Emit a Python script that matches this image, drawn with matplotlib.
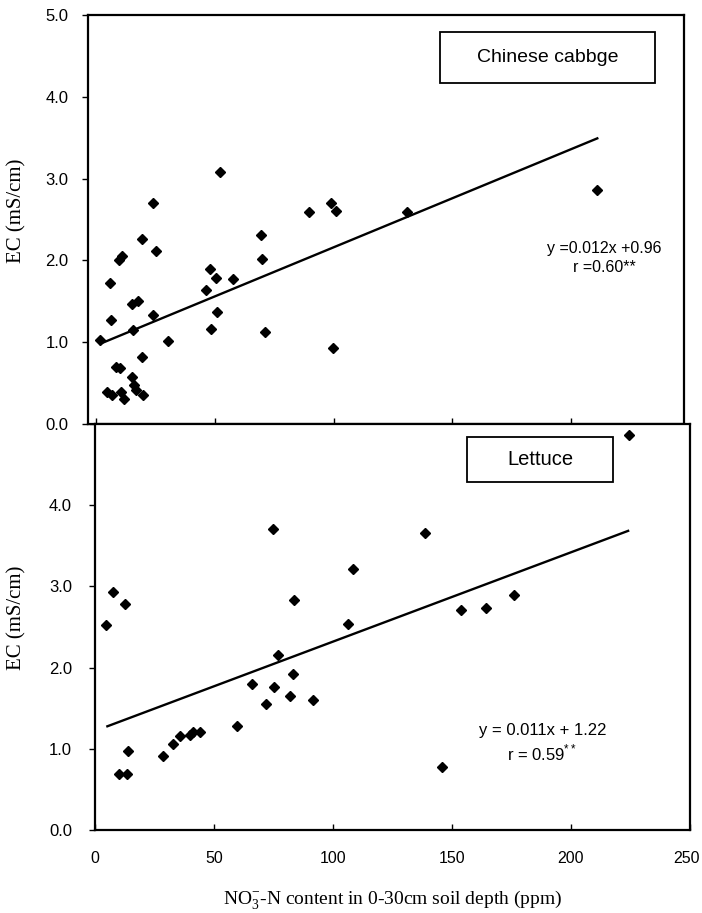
import numpy as np
import matplotlib
matplotlib.use('Agg')
import matplotlib.pyplot as plt
import matplotlib.transforms as mtransforms
from matplotlib.patches import Rectangle

plt.rcParams['mathtext.fontset'] = 'custom'
plt.rcParams['mathtext.rm'] = 'Liberation Serif'
plt.rcParams['mathtext.sf'] = 'Liberation Sans'

# Chinese cabbage (top panel)
cab_x = [1.7, 4.5, 5.9, 6.3, 6.9, 8.5, 9.7, 10.0, 10.4, 10.8, 11.8, 15.0, 15.0, 15.7,
         16.0, 16.8, 17.8, 19.2, 19.2, 19.6, 24.0, 24.1, 25.3, 30.4, 46.3, 48.0,
         48.4, 50.5, 50.8, 52.0, 57.8, 69.3, 69.7, 71.1, 89.6, 98.8, 99.9, 101.0,
         131.0, 211.0]
cab_y = [1.03, 0.39, 1.72, 1.27, 0.36, 0.70, 2.00, 0.69, 0.39, 2.05, 0.30, 1.47, 0.57, 1.15,
         0.48, 0.42, 1.50, 2.26, 0.82, 0.35, 2.70, 1.33, 2.11, 1.01, 1.64, 1.90,
         1.16, 1.78, 1.37, 3.08, 1.77, 2.31, 2.02, 1.12, 2.59, 2.70, 0.93, 2.60,
         2.59, 2.86]

# Lettuce (bottom panel)
let_x = [4.5, 7.6, 10.1, 12.5, 13.3, 13.9, 28.6, 32.8, 35.6, 40.0, 41.2, 44.0, 59.6,
         65.8, 71.8, 74.9, 75.3, 76.7, 82.1, 83.0, 83.6, 91.8, 106.2, 108.6,
         138.5, 145.7, 153.9, 164.4, 176.0, 224.3]
let_y = [2.53, 2.93, 0.69, 2.78, 0.69, 0.97, 0.91, 1.06, 1.16, 1.17, 1.21, 1.21, 1.28,
         1.80, 1.55, 3.71, 1.76, 2.15, 1.65, 1.92, 2.83, 1.60, 2.54, 3.22,
         3.66, 0.77, 2.71, 2.73, 2.89, 4.86]

# regression lines: slope, intercept, x range
cab_fit = [0.012, 0.96]
cab_range = [1.7, 211]
let_fit = [0.011, 1.22]
let_range = [5.2, 224]

yticks = [0.0, 1.0, 2.0, 3.0, 4.0, 5.0]
xticks = [0, 50, 100, 150, 200, 250]

W, H = 702, 913
fig = plt.figure(figsize=(W / 100, H / 100), dpi=100)

ax1 = fig.add_axes([88 / W, 1 - 424 / H, (684 - 88) / W, (424 - 15) / H])
ax2 = fig.add_axes([95 / W, 1 - 830 / H, (690 - 95) / W, (830 - 424) / H])

sans = 'Liberation Sans'
serif = 'Liberation Serif'


def draw(ax, xs, ys, fit, rng, ypad):
    ax.plot(xs, ys, linestyle='none', marker='D', markersize=5.5, color='black')
    lx = np.array(rng)
    ax.plot(lx, fit[0] * lx + fit[1], color='black', linewidth=1.7)
    ax.set_ylim(0, 5)
    ax.set_yticks(yticks)
    ax.set_yticklabels(['%.1f' % v for v in yticks], fontname=sans, fontsize=12)
    ax.set_xticks(xticks)
    for s in ax.spines.values():
        s.set_linewidth(1.6)
    ax.tick_params(axis='y', direction='out', length=4, width=1, pad=ypad)
    ax.tick_params(axis='x', direction='in', length=4, width=1, pad=15)


draw(ax1, cab_x, cab_y, cab_fit, cab_range, 10)
ax1.set_xlim(-3.4, 247.5)
ax1.set_xticklabels([])
ax1.add_patch(Rectangle((0.591, 0.834), 0.36, 0.124, transform=ax1.transAxes,
                        facecolor='white', edgecolor='black', linewidth=1.3))
ax1.text(0.771, 0.896, 'Chinese cabbge', transform=ax1.transAxes, ha='center', va='center',
         fontname=sans, fontsize=14)
ax1.text(214, 2.15, 'y =0.012x +0.96', ha='center', va='center', fontname=sans, fontsize=11.5)
ax1.text(214, 1.91, 'r =0.60**', ha='center', va='center', fontname=sans, fontsize=11.5)

draw(ax2, let_x, let_y, let_fit, let_range, 12.5)
ax2.set_xlim(0, 250)
ax2.set_yticklabels(['%.1f' % v for v in yticks[:-1]] + [''], fontname=sans, fontsize=12)
ax2.set_xticklabels([str(v) for v in xticks], fontname=sans, fontsize=11.5)
# keep the last x tick label inside the figure
last = ax2.get_xticklabels()[-1]
last.set_transform(last.get_transform() +
                   mtransforms.ScaledTranslation(-4 / 100, 0, fig.dpi_scale_trans))
ax2.add_patch(Rectangle((0.625, 0.857), 0.246, 0.111, transform=ax2.transAxes,
                        facecolor='white', edgecolor='black', linewidth=1.3))
ax2.text(0.748, 0.913, 'Lettuce', transform=ax2.transAxes, ha='center', va='center',
         fontname=sans, fontsize=14.5)
ax2.text(188, 1.23, 'y = 0.011x + 1.22', ha='center', va='center', fontname=sans, fontsize=12)
ax2.text(188, 0.95, r'r = 0.59$^{\mathsf{**}}$', ha='center', va='center', fontname=sans, fontsize=12)

fig.text(17 / W, 1 - 211 / H, 'EC (mS/cm)', rotation=90, ha='center', va='center',
         fontname=serif, fontsize=15)
fig.text(17 / W, 1 - 618 / H, 'EC (mS/cm)', rotation=90, ha='center', va='center',
         fontname=serif, fontsize=15)
fig.text(392 / W, 1 - 900 / H, r'NO$_{3}^{-}$-N content in 0-30cm soil depth (ppm)',
         ha='center', va='center', fontname=serif, fontsize=14)

fig.savefig('out.png', dpi=100)
